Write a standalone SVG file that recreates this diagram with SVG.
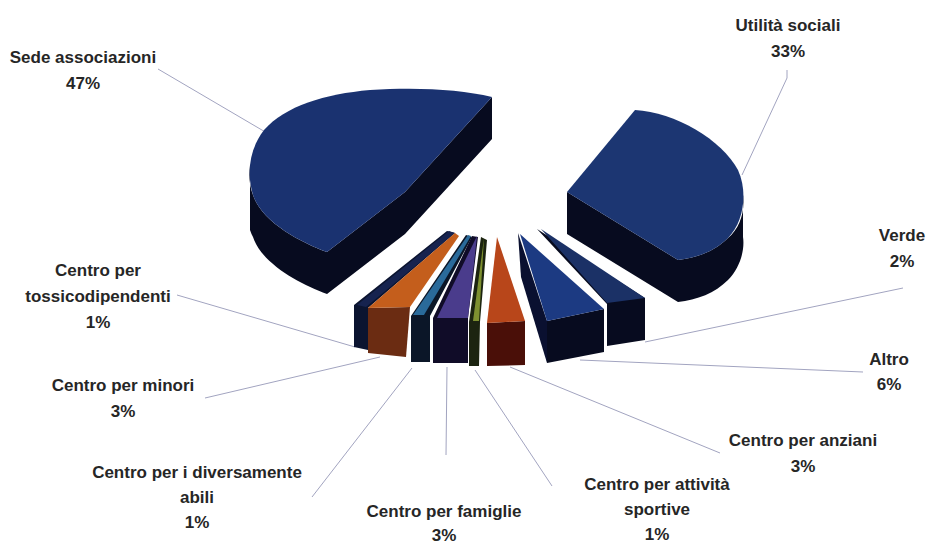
<svg xmlns="http://www.w3.org/2000/svg" width="928" height="546" viewBox="0 0 928 546">
<style>
.lbl{font-family:"Liberation Sans",Arial,sans-serif;font-weight:bold;font-size:17px;fill:#262626;text-anchor:middle}
.lead{stroke:#a2a4c0;stroke-width:1;fill:none}
.side{fill:#070b1f}
</style>
<rect width="928" height="546" fill="#ffffff"/>
<g id="connectors">
<line class="lead" x1="158" y1="69" x2="267" y2="133"/>
<polyline class="lead" points="787,70 787,78 742,175"/>
<line class="lead" x1="903" y1="288" x2="645" y2="342"/>
<line class="lead" x1="863" y1="372" x2="580" y2="360"/>
<line class="lead" x1="510" y1="367" x2="720" y2="453"/>
<line class="lead" x1="475" y1="370" x2="552" y2="486"/>
<line class="lead" x1="447" y1="367" x2="446" y2="455"/>
<line class="lead" x1="412" y1="368" x2="312" y2="497"/>
<line class="lead" x1="380" y1="357" x2="205" y2="398"/>
<line class="lead" x1="177" y1="295" x2="355" y2="347"/>
</g>
<g id="sede-associazioni">
<path class="side" d="M250,165 L250,230 C251,233 252,235 253,237 C262,264 300,284 327,294 L405,234 L492,139 L492,97 L405,192 L327,252 C300,242 262,222 253,195 C249,185 249,175 250,165 Z"/>
<path fill="#1a3270" d="M492,97 L405,192 L327,252 C300,242 262,222 253,195 C246,172 250,148 264,130 C285,106 325,94 370,90 C415,87 460,89 492,97 Z"/>
<text class="lbl" x="83" y="63">Sede associazioni</text>
<text class="lbl" x="83" y="89">47%</text>
</g>
<g id="utilita-sociali">
<path class="side" d="M567,192 L567,234 L678,302 C697,300 715,293 728,280 C740,268 745,250 743,237 L743,195 C745,212 740,228 728,238 C715,251 697,258 678,260 Z"/>
<path fill="#1c3672" d="M567,192 L635,110 C675,112 722,140 738,170 C748,192 744,222 728,238 C715,251 697,258 678,260 Z"/>
<text class="lbl" x="788" y="31">Utilità sociali</text>
<text class="lbl" x="788" y="57">33%</text>
</g>
<g id="centro-tossicodipendenti">
<path fill="#0b1430" d="M447,231 L354,305 L354,347 L368,350 L368,308 L455,233 Z"/>
<path fill="#16234f" d="M449,231 L357,305 L366,307 L455,233 Z"/>
<text class="lbl" x="98" y="276">Centro per</text>
<text class="lbl" x="98" y="302">tossicodipendenti</text>
<text class="lbl" x="98" y="328">1%</text>
</g>
<g id="centro-minori">
<path fill="#6b2c12" d="M368,308 L410,307 L406,357 L368,353 Z"/>
<path fill="#c45e1c" d="M455,233 L459,236 L410,307 L368,308 Z"/>
<text class="lbl" x="123" y="391">Centro per minori</text>
<text class="lbl" x="123" y="417">3%</text>
</g>
<g id="centro-diversamente-abili">
<path fill="#0b1628" d="M466,235 L411,316 L411,362 L430,362 L430,316 L472,237 Z"/>
<path fill="#2a6a9a" d="M468,235 L413,315 L424,315 L471,236 Z"/>
<text class="lbl" x="197" y="478">Centro per i diversamente</text>
<text class="lbl" x="197" y="503">abili</text>
<text class="lbl" x="197" y="528">1%</text>
</g>
<g id="centro-famiglie">
<path fill="#100c28" d="M472,236 L433,318 L433,363 L468,363 L468,318 L478,237 Z"/>
<path fill="#4a3c8c" d="M477,236 L437,318 L468,318 Z"/>
<text class="lbl" x="444" y="517">Centro per famiglie</text>
<text class="lbl" x="444" y="541">3%</text>
</g>
<g id="centro-attivita-sportive">
<path fill="#1c2410" d="M481,237 L469,322 L469,366 L479,366 L480,322 L487,240 Z"/>
<path fill="#7e9030" d="M484,238 L473,321 L479,321 Z"/>
<text class="lbl" x="657" y="490">Centro per attività</text>
<text class="lbl" x="657" y="515">sportive</text>
<text class="lbl" x="657" y="540">1%</text>
</g>
<g id="centro-anziani">
<path fill="#4a0f08" d="M487,323 L525,321 L525,365 L487,366 Z"/>
<path fill="#b8461a" d="M497,237 L487,323 L525,321 Z"/>
<text class="lbl" x="803" y="446">Centro per anziani</text>
<text class="lbl" x="803" y="472">3%</text>
</g>
<g id="verde">
<path class="side" d="M537,229 L607,304 L607,346 L645,340 L645,298 Z"/>
<path fill="#1b3166" d="M541,229 L607,303 L645,298 Z"/>
<text class="lbl" x="902" y="241">Verde</text>
<text class="lbl" x="902" y="267">2%</text>
</g>
<g id="altro">
<path fill="#0a1030" d="M518,233 L547,321 L547,363 L521,277 Z"/>
<path class="side" d="M547,321 L604,309 L604,352 L547,363 Z"/>
<path fill="#1c3a82" d="M520,234 L547,321 L604,309 Z"/>
<text class="lbl" x="889" y="365">Altro</text>
<text class="lbl" x="889" y="390">6%</text>
</g>
</svg>
